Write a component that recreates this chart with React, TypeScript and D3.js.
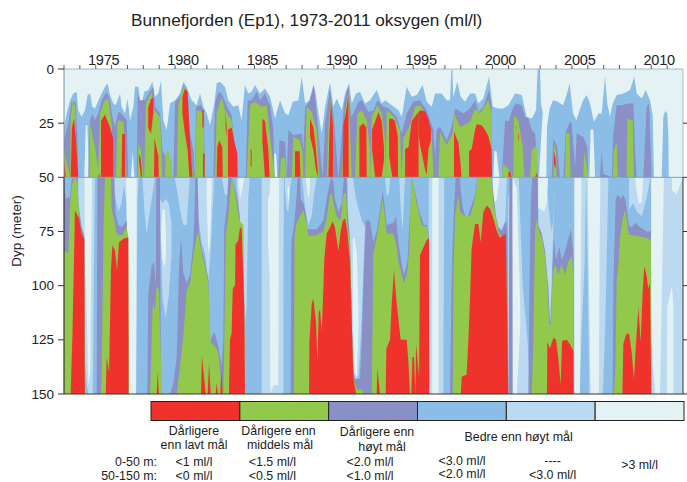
import React from "react";
import * as d3 from "d3";

type P = [number, number];
type T = [number, number, number];

const COLORS = { red: "#ef332c", green: "#92c84b", purple: "#8a8fc5", blue: "#8cbde7", light: "#bbd9f1", pale: "#e4f2f4" };
const legendColors = [COLORS.red, COLORS.green, COLORS.purple, COLORS.blue, COLORS.light, COLORS.pale];
const yearLabels = [1975, 1980, 1985, 1990, 1995, 2000, 2005, 2010];
const depthTicks = [0, 25, 50, 75, 100, 125, 150];
const rightTicks = [25, 50, 75, 100, 125, 150];

const upperBlue: P[] = [[1973,26.7],[1973.17,20.5],[1973.38,14.4],[1973.59,11.3],[1973.8,10.5],[1973.9,19],[1974.11,22],[1974.32,19],[1974.49,12],[1974.64,11.3],[1974.79,17.4],[1974.95,18.2],[1975.27,12.8],[1975.58,8.2],[1975.75,6.6],[1975.9,12],[1976.11,15.9],[1976.26,16.7],[1976.53,11.3],[1976.63,17.4],[1976.84,20.5],[1977.01,13.6],[1977.16,23.6],[1977.37,17.4],[1977.47,8.2],[1977.68,8.2],[1977.85,17.4],[1978.06,10.5],[1978.31,9.7],[1978.57,5.9],[1978.73,12.8],[1978.94,11.3],[1979.11,5.4],[1979.26,23.6],[1979.47,28.2],[1979.68,15.9],[1980,14.4],[1980.31,11.3],[1980.52,5.9],[1980.73,8.2],[1981.04,14.4],[1981.36,16.7],[1981.57,11.3],[1981.78,17.4],[1981.99,20.5],[1982.2,25.9],[1982.47,15.9],[1982.62,6.6],[1982.83,5.9],[1983.14,8.2],[1983.35,14.4],[1983.67,17.4],[1983.98,16.7],[1984.19,23.6],[1984.4,7.4],[1984.61,11.3],[1984.82,10.5],[1985.03,7.4],[1985.35,11.3],[1985.66,9],[1985.98,12.8],[1986.3,22.8],[1986.61,14.4],[1986.93,20.5],[1987.14,21.3],[1987.41,15.1],[1987.77,14.4],[1987.98,3.5],[1988.19,15.9],[1988.46,14.4],[1988.71,7.4],[1988.86,11.3],[1989.03,20.5],[1989.24,29.8],[1989.45,17.4],[1989.76,6.2],[1989.97,17.4],[1990.18,13.6],[1990.5,19],[1990.71,11.3],[1990.96,6.6],[1991.13,15.9],[1991.4,11.3],[1991.65,10.5],[1991.97,15.9],[1992.28,14.4],[1992.7,9.7],[1993.02,15.9],[1993.23,14.4],[1993.65,16.7],[1994.07,19],[1994.28,22],[1994.59,8.2],[1994.91,12.8],[1995.22,12],[1995.6,7.4],[1995.85,15.1],[1996.17,17.4],[1996.38,11.3],[1996.8,11.3],[1997.11,14.4],[1997.32,14.4],[1997.4,0.5],[1997.47,0.5],[1997.53,12.8],[1997.78,5.9],[1997.99,12.8],[1998.27,15.1],[1998.58,11.3],[1998.9,11.3],[1999.11,15.9],[1999.42,13.6],[1999.78,3.5],[2000.01,17.4],[2000.37,18.2],[2000.68,18.2],[2001,16.7],[2001.42,11.3],[2001.84,12],[2002.15,22],[2002.47,22.8],[2002.74,19],[2002.84,0],[2002.99,0],[2003.05,15.9],[2003.16,19.8],[2002.92,50],[2003.39,50],[2003.43,26.7],[2003.6,18.2],[2003.81,14.4],[2004.13,15.1],[2004.44,16.7],[2004.69,11.3],[2004.86,6.6],[2005.07,20.5],[2005.28,23.6],[2005.7,14.4],[2005.93,12],[2006.14,15.9],[2006.39,24.4],[2006.67,20.5],[2006.88,20.5],[2007.09,3.5],[2007.23,15.9],[2007.4,22],[2007.57,15.9],[2007.82,12],[2008.24,11.3],[2008.66,9.7],[2008.93,3.5],[2009.08,11.3],[2009.4,13.6],[2009.65,9.7],[2009.92,14.4],[2010.09,21.5],[2010.17,50],[2010.66,50],[2010.76,22],[2010.87,19.4],[2011.01,20.5],[2011.08,31.3],[2011.1,50]];

const upperPaleGaps: T[][] = [
  [[1974.28,50,50],[1974.37,26,50],[1974.47,26,50],[1974.58,50,50]],
  [[1977.22,50,50],[1977.33,38,50],[1977.43,50,50]],
  [[1986.15,50,50],[1986.23,39,50],[1986.36,39,50],[1986.44,50,50]],
  [[1988.29,50,50],[1988.4,38,50],[1988.48,50,50]],
  [[1996.27,50,50],[1996.38,41,50],[1996.48,50,50]],
  [[2000.05,50,50],[2000.12,38,50],[2000.25,38,50],[2000.43,50,50]],
  [[2006.1,50,50],[2006.18,28,50],[2006.35,28,50],[2006.46,50,50]],
];

const upperPurple: P[] = [[1973,32.9],[1973.27,25.2],[1973.48,15.1],[1973.74,15.1],[1973.86,34.4],[1973.9,50],[1974.53,50],[1974.62,24.4],[1974.79,20.5],[1974.95,23.6],[1975.16,20.5],[1975.37,14.4],[1975.69,10.5],[1975.9,14.4],[1976.05,22],[1976.21,26.7],[1976.42,19.8],[1976.63,20.5],[1976.95,23.6],[1977.05,50],[1977.58,50],[1977.64,11.3],[1977.79,14.4],[1978.1,14.4],[1978.42,10.5],[1978.63,8.2],[1978.73,17.4],[1979.05,20.5],[1979.2,37.5],[1979.47,41.4],[1979.68,44.4],[1979.83,50],[1979.89,50],[1980,15.1],[1980.31,12.8],[1980.52,7.4],[1980.79,10.5],[1980.94,29.8],[1981.15,37.5],[1981.25,50],[1981.32,17.4],[1981.63,16.7],[1981.82,19],[1981.88,50],[1982.41,50],[1982.51,15.9],[1982.72,10.5],[1982.93,11.3],[1983.25,16.7],[1983.56,21.3],[1983.94,50],[1984.45,50],[1984.57,14.4],[1984.82,14.4],[1985.14,10.5],[1985.35,14.4],[1985.66,11.3],[1985.98,16.7],[1986.19,28.2],[1986.27,50],[1986.5,50],[1986.57,32.9],[1986.93,33.6],[1987.03,50],[1987.14,28.2],[1987.45,30.6],[1987.98,29.8],[1988.08,37.5],[1988.19,17.4],[1988.46,15.1],[1988.75,7.4],[1988.92,20.5],[1989.13,37.5],[1989.3,50],[1989.45,25.2],[1989.76,9],[1989.97,20.5],[1990.29,50],[1990.43,37.5],[1990.64,15.9],[1990.92,7.4],[1991.08,22],[1991.23,20.5],[1991.55,15.1],[1991.76,14.4],[1992.18,19.8],[1992.49,19],[1992.74,14.4],[1993.12,17.4],[1993.44,18.2],[1993.96,22],[1994.28,29.8],[1994.59,20.5],[1995.01,15.1],[1995.43,14.4],[1995.85,19],[1996.27,28.2],[1996.38,40.6],[1996.48,28.2],[1996.69,26.7],[1997.11,32.9],[1997.42,26.7],[1997.64,18.2],[1997.85,19],[1998.16,20.5],[1998.58,18.2],[1998.9,14.4],[1999.11,19.8],[1999.42,17.4],[1999.78,9.7],[1999.95,17.4],[1999.99,50],[2000.58,50],[2000.68,37.5],[2000.79,23.6],[2001,24.4],[2001.31,17.4],[2001.52,15.9],[2001.84,16.7],[2002.05,22],[2002.26,22.8],[2002.47,28.2],[2002.68,29.8],[2002.88,50],[2003.72,50],[2003.83,32.1],[2004.08,36],[2004.25,50],[2004.46,50],[2004.61,29],[2004.88,24.4],[2004.99,25.2],[2005.2,45.2],[2005.3,29.8],[2005.72,31.3],[2005.97,36],[2006.03,50],[2006.77,50],[2006.88,37.5],[2006.98,48.3],[2007.51,50],[2007.61,29.8],[2007.82,16.7],[2008.14,16.7],[2008.56,15.9],[2008.87,15.9],[2008.98,37.5],[2009.08,50],[2009.5,50],[2009.71,17.4],[2009.86,15.9],[2010.03,50]];

const upperGreen: P[] = [[1973,37.5],[1973.13,42],[1973.38,50],[1973.42,22],[1973.55,14.4],[1973.69,17.4],[1973.86,50],[1974.6,50],[1974.64,25.2],[1974.95,36],[1975.16,46.8],[1975.27,20.5],[1975.58,14.4],[1975.79,13.6],[1976,25.2],[1976.11,50],[1976.28,50],[1976.36,23.6],[1976.74,24.4],[1976.95,50],[1977.64,50],[1977.68,34.4],[1977.85,37.5],[1978,50],[1978.06,50],[1978.15,15.9],[1978.52,10.5],[1978.69,19],[1979.05,22],[1979.2,50],[1979.36,50],[1979.41,39],[1979.57,37.5],[1979.78,43.7],[1979.83,50],[1980.1,50],[1980.2,16.7],[1980.52,8.2],[1980.73,9.7],[1980.94,37.5],[1981.15,50],[1981.25,50],[1981.36,19],[1981.78,19.8],[1981.88,50],[1982.51,50],[1982.62,20.5],[1982.93,12.8],[1983.14,19],[1983.56,23.6],[1983.92,50],[1984.51,50],[1984.72,16.7],[1985.03,15.1],[1985.45,17.4],[1985.77,16.7],[1986.08,37.5],[1986.3,50],[1986.61,50],[1986.67,41.4],[1986.93,40.6],[1986.99,50],[1987.35,50],[1987.45,31.3],[1987.87,32.9],[1988.04,39],[1988.08,50],[1988.19,50],[1988.29,17.4],[1988.61,19.8],[1988.92,28.2],[1989.09,50],[1989.55,50],[1989.66,26.7],[1989.82,13.6],[1989.97,28.2],[1990.01,50],[1990.5,50],[1990.71,19],[1990.92,11.3],[1991.02,28.2],[1991.13,50],[1991.34,50],[1991.48,20.5],[1991.76,19],[1992.07,23.6],[1992.28,37.5],[1992.34,50],[1992.39,22],[1992.74,16.7],[1993.02,20.5],[1993.23,32.9],[1993.27,50],[1993.33,19],[1993.79,22],[1994.17,28.2],[1994.28,50],[1994.38,32.1],[1994.8,25.9],[1995.12,17.4],[1995.43,16.7],[1995.85,21.3],[1996.17,29.8],[1996.27,50],[1996.59,50],[1996.69,29],[1997.11,35.2],[1997.49,29.8],[1997.57,20.5],[1997.95,26.7],[1998.27,25.9],[1998.58,24.4],[1998.9,18.2],[1999.21,20.5],[1999.74,14.4],[1999.95,20.5],[1999.97,50],[2000.58,50],[2000.68,43.7],[2001,46],[2001.31,50],[2001.35,21.3],[2001.62,23.6],[2001.9,36],[2002,50],[2002.36,50],[2002.47,37.5],[2002.78,35.2],[2002.84,50],[2003.83,50],[2003.87,34.4],[2004,37.5],[2004.04,50],[2004.57,50],[2004.63,29.5],[2004.84,29.8],[2004.92,50],[2005.72,50],[2005.78,38.3],[2005.93,43.7],[2006.03,50],[2007.57,50],[2007.65,37.5],[2007.82,33.6],[2007.88,50],[2008.45,50],[2008.49,22.8],[2008.83,23.6],[2008.87,37.5],[2008.91,50]];

const upperRed: T[][] = [
  [[1973,42,50],[1973.13,50,50]],
  [[1973.42,50,50],[1973.5,27,50],[1973.63,23,50],[1973.74,31,50],[1973.9,50,50]],
  [[1975.16,50,50],[1975.22,48,50],[1975.28,50,50]],
  [[1975.33,24,50],[1975.58,21,50],[1975.9,27,50],[1976.09,32,50],[1976.11,50,50]],
  [[1976.63,50,50],[1976.67,30,50],[1976.84,30,50],[1976.86,50,50]],
  [[1977.72,39,42],[1977.85,42,50],[1977.93,50,50]],
  [[1978.31,18,27],[1978.48,14,30],[1978.63,13,20]],
  [[1978.67,50,50],[1978.7,32,50],[1978.94,40,50],[1978.97,50,50]],
  [[1980.46,12.8,20.5],[1980.62,9,29.8],[1980.79,10.5,37.5],[1980.9,28,50],[1981.09,49,50]],
  [[1981.72,19,27],[1981.8,19,27]],
  [[1981.76,39,50],[1981.86,39,50]],
  [[1982.62,50,50],[1982.66,36,50],[1982.79,33,50],[1982.97,36,50],[1983,50,50]],
  [[1983.18,20,27],[1983.25,27,32]],
  [[1983.33,28,50],[1983.56,27,50],[1983.75,34,50],[1983.92,39,50],[1983.94,50,50]],
  [[1984.76,37,45],[1984.82,37,45]],
  [[1985.5,23,33],[1985.66,24,50],[1985.87,37,50],[1985.95,50,50]],
  [[1987.55,50,50],[1987.56,38,50],[1987.85,38,50],[1987.9,50,50]],
  [[1988.5,22.8,31],[1988.71,27,37.5],[1988.86,36,46],[1989,48,50]],
  [[1989.66,50,50],[1989.72,30,50],[1989.82,15,50],[1989.94,26,50],[1989.97,50,50]],
  [[1990.56,50,50],[1990.6,26,50],[1990.79,19,50],[1990.92,12,50],[1990.94,50,50]],
  [[1991.61,26.7,50],[1991.86,25,50],[1992.05,27,50],[1992.07,50,50]],
  [[1992.41,28,37],[1992.6,24.4,50],[1992.81,20,50],[1993.02,24,50],[1993.16,36,42]],
  [[1993.48,23,40],[1993.69,23,50],[1993.85,24,50],[1994.03,31,50],[1994.05,50,50]],
  [[1994.49,37,50],[1994.71,36,50],[1994.91,24,50],[1995.22,21,50],[1995.34,20,50]],
  [[1995.34,20,30],[1995.43,19,35],[1995.74,19.5,46],[1995.85,21,49],[1995.96,23,37],[1996.12,28,33]],
  [[1997.57,29,50],[1997.85,34,50],[1998,45,50],[1998.03,50,50]],
  [[1998.52,38,50],[1998.68,37,50],[1998.9,28,50],[1999,25.5,50],[1999.31,26,50],[1999.52,28,50],[1999.74,31,50],[1999.94,37,50],[1999.97,50,50]],
  [[2001,47,50],[2001.14,48,50],[2001.2,50,50]],
  [[2001.47,26.7,27.5],[2001.5,26.7,27.5]],
  [[2001.62,30,33],[2001.66,30,33]],
  [[2002.68,50,50],[2002.78,48,50],[2002.82,50,50]],
  [[2003.87,38,44],[2003.98,42,46]],
];

const lowerLight: T[][] = [
  [[1973.9,50,60],[1974.11,50,75],[1974.28,50,130],[1974.43,50,145],[1974.53,50,150],[1974.81,50,150],[1974.87,50,100],[1974.95,50,50]],
  [[1976.05,50,50],[1976.21,50,58],[1976.42,50,66],[1976.63,50,62],[1976.84,50,50]],
  [[1976.74,50,52],[1976.95,50,62],[1977.1,50,150],[1977.54,50,150],[1977.63,50,60],[1977.7,50,50]],
  [[1977.94,50,50],[1978.06,50,65],[1978.21,50,76],[1978.42,50,65],[1978.63,50,55],[1978.73,50,50]],
  [[1979.05,60,65],[1979.2,62,105],[1979.4,60,115],[1979.6,62,105],[1979.78,72,85]],
  [[1979.95,50,50],[1980.1,50,55],[1980.31,50,65],[1980.52,50,72],[1980.73,50,72],[1980.83,50,60],[1980.94,50,50]],
  [[1981.3,50,50],[1981.46,50,68],[1981.67,50,80],[1981.88,50,85],[1982.09,50,98],[1982.24,50,84],[1982.36,50,65],[1982.47,50,50]],
  [[1982.93,50,50],[1983.14,50,58],[1983.35,50,58],[1983.46,50,50]],
  [[1983.88,50,55],[1983.98,50,60],[1984.09,50,70],[1984.3,50,95],[1984.4,50,118],[1984.51,50,110],[1984.61,50,60],[1984.7,50,50]],
  [[1985.45,50,150],[1986.82,50,150],[1986.85,50,50]],
  [[1986.92,50,55],[1987.04,50,65],[1987.14,50,66],[1987.25,50,55],[1987.37,50,50]],
  [[1988.02,50,52],[1988.19,50,64],[1988.4,50,72],[1988.6,50,68],[1988.75,50,58],[1988.92,50,50]],
  [[1990.85,50,50],[1990.95,50,80],[1991.1,50,105],[1991.2,50,140],[1991.4,60,145],[1991.58,65,140],[1991.76,70,115],[1991.9,72,85],[1991.97,73,73]],
  [[1993.23,50,50],[1993.33,50,58],[1993.45,50,58],[1993.56,50,50]],
  [[1994.12,50,50],[1994.2,50,62],[1994.33,50,75],[1994.45,50,55],[1994.5,50,50]],
  [[1995.98,50,150],[1996.9,50,150],[1996.96,50,50]],
  [[2000,50,60],[2000.2,50,70],[2000.37,50,73],[2000.58,50,74],[2000.8,50,70],[2000.9,50,50]],
  [[2000.99,60,150],[2001.2,50,150],[2001.65,50,150],[2001.9,100,150],[2002.2,125,150],[2002.3,140,150]],
  [[2002.88,50,80],[2003.1,50,85],[2003.3,50,95],[2003.5,60,105],[2003.62,70,115],[2003.72,75,100],[2003.82,70,75],[2003.9,55,58]],
  [[2005.13,50,150],[2005.5,50,150],[2005.62,50,120],[2005.8,50,90],[2005.9,50,50]],
  [[2005.9,50,50],[2006,50,95],[2006.1,50,150],[2006.95,50,150],[2007.1,50,120],[2007.3,50,50]],
  [[2008.6,50,65],[2008.85,50,62],[2009.1,50,66],[2009.4,50,68],[2009.7,50,60],[2009.95,50,50]],
  [[2010,50,150],[2012,50,150]],
];

const lowerPale: T[][] = [
  [[1974.3,50,100],[1974.38,50,95],[1974.53,50,146],[1974.66,50,140],[1974.75,50,60]],
  [[1976.92,50,55],[1977.07,50,150],[1977.54,50,150],[1977.58,50,55]],
  [[1979.11,75,80],[1979.2,65,88],[1979.35,65,92],[1979.42,75,85]],
  [[1981.99,50,60],[1982.09,50,85],[1982.2,50,80],[1982.3,50,55]],
  [[1983.98,50,52],[1984.09,50,60],[1984.25,50,55],[1984.35,50,50]],
  [[1985.85,60,80],[1985.95,58,95],[1986,50,150],[1986.2,50,146],[1986.5,50,146],[1986.55,50,50]],
  [[1987.08,55,57],[1987.15,54,62],[1987.2,55,57]],
  [[1988.25,50,52],[1988.4,50,60],[1988.5,50,55]],
  [[1991.2,78,110],[1991.3,78,140],[1991.45,85,142],[1991.55,110,120]],
  [[1996.2,50,150],[1996.6,50,150]],
  [[2000.03,50,55],[2000.12,50,62],[2000.27,50,60],[2000.45,50,50]],
  [[2001.03,90,150],[2001.27,50,150],[2001.53,55,150],[2001.75,110,118]],
  [[2002.88,50,64],[2003.1,50,65],[2003.25,50,66],[2003.42,50,62],[2003.5,50,50]],
  [[2005.17,50,150],[2005.5,50,150],[2005.6,50,55]],
  [[2006,50,55],[2006.1,50,110],[2006.18,50,150],[2006.7,50,150],[2006.75,50,80],[2006.8,50,50]],
  [[2009,50,52],[2009.2,50,62],[2009.4,50,62],[2009.5,50,50]],
  [[2010,50,125],[2010.25,50,150],[2010.55,50,150],[2010.8,50,50]],
  [[2011.3,50,56],[2011.6,50,58],[2011.98,50,50]],
  [[2011,110,150],[2011.3,100,150],[2011.4,110,150]],
];

const lowerPurple: P[] = [[1973,54],[1973.11,60],[1973.38,59],[1973.48,51],[1973.69,50],[1973.86,50],[1973.9,63],[1974.11,73],[1974.28,77],[1974.32,150],[1975.06,150],[1975.1,50],[1976,50],[1976.17,50],[1976.23,66],[1976.42,72],[1976.63,73],[1976.95,70],[1977.1,150],[1978.25,150],[1978.31,104],[1978.52,91],[1978.67,89],[1978.78,100],[1978.82,50],[1979.05,50],[1979.07,100],[1979.11,135],[1979.13,150],[1979.68,150],[1979.89,145],[1980.1,133],[1980.25,90],[1980.38,78],[1980.52,94],[1980.73,99],[1980.94,95],[1981.15,80],[1981.21,70],[1981.27,50],[1981.42,50],[1981.5,75],[1981.67,83],[1981.88,89],[1982.09,97],[1982.2,126],[1982.41,122],[1982.51,122],[1982.72,128],[1982.93,137],[1983.04,125],[1983.1,73],[1983.25,64],[1983.35,50],[1983.56,50],[1983.88,58],[1984.09,69],[1984.4,150],[1987.28,150],[1987.32,80],[1987.49,72],[1987.66,58],[1987.72,50],[1987.87,50],[1987.91,60],[1988.08,62],[1988.19,65],[1988.33,74],[1988.5,74],[1988.92,74],[1989.34,70],[1989.55,60],[1989.76,52],[1989.87,50],[1989.97,52],[1990.07,60],[1990.29,66],[1990.5,62],[1990.64,50],[1990.81,50],[1990.85,65],[1991.02,78],[1991.13,117],[1991.23,138],[1991.34,143],[1991.65,143],[1991.76,125],[1991.86,100],[1992.01,70],[1992.28,70],[1992.34,73],[1992.49,80],[1992.7,75],[1992.91,65],[1993.08,56],[1993.23,65],[1993.33,72],[1993.75,71],[1993.92,68],[1994.07,80],[1994.28,90],[1994.42,95],[1994.63,89],[1994.76,72],[1994.84,60],[1994.91,50],[1995.22,60],[1995.43,67],[1995.68,72],[1995.85,72],[1995.96,76],[1996,150],[1997.32,150],[1997.42,100],[1997.49,80],[1997.57,65],[1997.68,50],[1997.95,50],[1997.99,56],[1998.16,65],[1998.37,70],[1998.58,65],[1998.9,58],[1999,52],[1999.04,50],[1999.95,50],[2000.01,55],[2000.22,68],[2000.37,73],[2000.58,75],[2000.85,70],[2000.93,75],[2000.99,150],[2001.01,150],[2001.06,50],[2001.25,50],[2001.27,150],[2002.26,150],[2002.32,100],[2002.42,60],[2002.51,50],[2002.84,50],[2002.88,72],[2003.1,76],[2003.31,84],[2003.45,96],[2003.51,100],[2003.62,117],[2003.68,116],[2003.79,90],[2003.87,78],[2004,88],[2004.21,82],[2004.36,88],[2004.53,85],[2004.71,80],[2004.94,74],[2005.09,85],[2005.13,150],[2007.57,150],[2007.61,100],[2007.76,60],[2007.92,58],[2008.07,60],[2008.24,58],[2008.35,60],[2008.45,64],[2008.58,72],[2008.77,73],[2008.98,71],[2009.29,73],[2009.71,75],[2009.98,75],[2010,150]];

const lowerGreen: P[] = [[1973,83.8],[1973.27,85],[1973.38,63],[1973.48,54],[1973.69,50],[1973.86,53],[1973.96,69],[1974.11,76],[1974.28,78],[1974.32,150],[1975.31,150],[1975.37,143],[1975.48,80],[1975.52,65],[1975.58,50],[1975.96,50],[1976,64],[1976.17,70],[1976.32,76],[1976.63,77],[1976.95,73],[1977.05,77.6],[1977.1,150],[1978.42,150],[1978.52,126],[1978.59,108.5],[1978.73,111],[1978.84,100],[1978.98,102],[1979.11,135.5],[1979.13,150],[1980.1,150],[1980.41,131],[1980.52,123],[1980.73,102],[1980.94,99],[1981.15,86],[1981.36,77],[1981.46,75.5],[1981.67,85],[1981.88,91],[1982.09,99],[1982.24,126],[1982.62,129],[1982.72,131],[1982.93,145],[1983.04,150],[1983.1,126],[1983.19,77],[1983.35,68],[1983.56,50],[1983.78,57],[1983.94,65],[1984.09,70.4],[1984.3,72],[1984.36,111],[1984.4,150],[1987.49,150],[1987.53,77],[1987.66,71],[1987.87,68],[1988.08,65],[1988.29,72],[1988.4,77],[1988.82,77],[1989.34,75],[1989.55,69],[1989.76,58],[1989.87,57],[1989.97,62],[1990.18,68],[1990.43,70],[1990.6,58],[1990.77,57],[1990.85,72],[1991.02,80],[1991.13,117],[1991.23,142],[1991.34,145],[1991.48,148],[1991.82,148],[1991.86,150],[1992.39,150],[1992.49,85.3],[1992.7,78],[1992.91,68],[1993.08,60],[1993.23,69],[1993.33,76],[1993.75,76],[1993.96,82],[1994.07,89],[1994.28,95],[1994.42,99],[1994.63,94],[1994.76,82],[1994.82,65],[1994.91,50],[1995.22,62],[1995.54,72],[1995.85,73],[1995.96,78],[1996,150],[1997.49,150],[1997.53,95],[1997.64,68],[1997.85,58],[1997.95,66],[1998.27,68],[1998.58,68],[1998.79,63],[1999,55],[1999.04,50],[1999.95,50],[2000.05,62],[2000.26,70],[2000.37,75],[2000.58,78],[2000.83,76],[2000.99,150],[2002.47,150],[2002.57,126],[2002.68,75],[2002.78,69],[2002.93,75],[2003.1,78],[2003.31,86],[2003.45,99],[2003.58,117],[2003.68,118.5],[2003.79,95],[2003.94,90],[2004.15,95],[2004.36,90],[2004.57,95],[2004.78,89],[2004.99,86],[2005.09,95],[2005.13,150],[2007.65,150],[2007.74,137],[2007.82,98],[2007.92,91],[2008.03,78],[2008.2,69],[2008.35,65],[2008.45,69],[2008.58,76.5],[2009.08,77],[2009.71,78],[2009.98,79],[2010,150]];

const lowerRed: P[] = [[1973.42,150],[1973.53,123.1],[1973.63,87.7],[1973.69,65.3],[1973.95,69],[1974.11,76],[1974.28,78.4],[1974.3,140],[1974.32,150],[1975.63,150],[1975.69,133],[1975.84,140],[1975.96,92],[1976.05,81.4],[1976.21,83.7],[1976.34,93],[1976.47,80],[1976.74,78.4],[1977.05,77.6],[1977.07,150],[1978.84,150],[1978.9,140],[1978.98,150],[1981.63,150],[1981.69,132.4],[1981.82,142],[1981.93,150],[1982.05,150],[1982.14,136],[1982.24,150],[1982.56,150],[1982.62,145],[1982.7,150],[1982.85,150],[1982.91,138.5],[1983,150],[1983.39,150],[1983.46,124.7],[1983.56,122],[1983.63,101.5],[1983.78,99.5],[1983.8,81],[1983.98,79.2],[1984.09,73],[1984.19,73.7],[1984.3,95.4],[1984.36,111],[1984.4,150],[1988.44,150],[1988.46,126],[1988.61,108],[1988.71,106],[1988.88,117],[1988.96,135],[1989.05,112.4],[1989.13,111],[1989.24,121],[1989.34,101.5],[1989.4,87.7],[1989.55,76],[1989.76,73],[1989.93,70.4],[1990.07,73],[1990.29,84],[1990.43,75],[1990.56,70],[1990.71,69],[1990.85,75],[1991.02,89],[1991.13,117],[1991.23,142],[1991.4,150],[1992.7,150],[1992.74,138],[1992.91,150],[1993.27,150],[1993.31,129],[1993.54,125],[1993.65,108],[1993.79,93],[1993.96,108],[1994.21,125],[1994.59,125],[1994.7,135.5],[1994.8,150],[1994.88,150],[1994.95,133],[1995.05,133],[1995.14,150],[1995.18,127],[1995.26,133],[1995.37,142],[1995.43,86],[1995.54,84],[1995.85,79],[1996,78],[1996.02,150],[1998,150],[1998.06,142],[1998.37,141],[1998.5,121.5],[1998.58,106],[1998.68,83],[1998.9,71.5],[1999.11,71.5],[1999.25,80],[1999.42,66],[1999.63,63],[1999.84,64.5],[2000.05,69],[2000.26,74.5],[2000.47,78],[2000.83,76],[2000.93,118],[2000.99,150],[2003.43,150],[2003.45,126],[2003.62,129],[2003.83,124],[2004,125],[2004.15,134],[2004.29,146],[2004.38,125.5],[2004.67,125],[2004.88,127],[2005.09,130],[2005.11,150],[2008.18,150],[2008.24,127],[2008.35,124],[2008.45,122],[2008.62,122.5],[2008.77,131],[2008.91,143],[2009.02,129],[2009.19,110],[2009.33,126],[2009.46,103],[2009.56,91],[2009.71,95.4],[2009.82,101.5],[2009.92,98.5],[2010,150]];

const x = d3.scaleLinear().domain([1973, 2012]).range([64, 683]);
const y = d3.scaleLinear().domain([0, 150]).range([69, 394]);
const yearTicks = d3.range(1973, 2012);

const FONT = "'Liberation Sans', Arial, sans-serif";

function pairPath(points: P[], base: number) {
  return d3.area<P>().x((d) => x(d[0])).y0(y(base)).y1((d) => y(d[1]))(points) ?? "";
}
function bandPath(points: T[]) {
  return d3.area<T>().x((d) => x(d[0])).y0((d) => y(d[2])).y1((d) => y(d[1]))(points) ?? "";
}

const legendX = d3.scaleLinear().domain([0, 6]).range([151, 684]);

const legendHeads: [string, number, number][] = [
  ["Dårligere", 194, 434.5], ["enn lavt mål", 194, 448.5],
  ["Dårligere enn", 278.5, 434.5], ["middels mål", 280, 448.5],
  ["Dårligere enn", 377, 435.5], ["høyt mål", 382, 450.5],
  ["Bedre enn høyt mål", 518.6, 440.5],
  ["<1 ml/l", 194, 466], ["<0 ml/l", 194, 480],
  ["<1.5 ml/l", 272.4, 466], ["<0.5 ml/l", 272.4, 480],
  ["<2.0 ml/l", 370, 465.5], ["<1.0 ml/l", 370, 479.5],
  ["<3.0 ml/l", 462, 464.5], ["<2.0 ml/l", 462, 478],
  ["----", 552.6, 465], ["<3.0 ml/l", 552.6, 478.5],
  [">3 ml/l", 639.6, 468.5],
];

export default function App() {
  return (
    <svg width={687} height={482} style={{ position: "absolute", left: 0, top: 0, background: "#fff" }} fontFamily={FONT}>
      <defs>
        <clipPath id="upper"><rect x={64} y={69} width={619} height={y(50) - 69} /></clipPath>
        <clipPath id="lower"><rect x={64} y={y(50)} width={619} height={394 - y(50)} /></clipPath>
      </defs>
      <text x={131} y={26} fontSize={17.2} fill="#222">Bunnefjorden (Ep1), 1973-2011 oksygen (ml/l)</text>

      <g clipPath="url(#upper)">
        <rect x={64} y={69} width={619} height={y(50) - 69} fill={COLORS.pale} />
        <path d={pairPath(upperBlue, 50)} fill={COLORS.blue} />
        {upperPaleGaps.map((b, i) => <path key={i} d={bandPath(b)} fill={COLORS.pale} />)}
        <path d={pairPath(upperPurple, 50)} fill={COLORS.purple} />
        <path d={pairPath(upperGreen, 50)} fill={COLORS.green} />
        {upperRed.map((b, i) => <path key={i} d={bandPath(b)} fill={COLORS.red} />)}
      </g>
      <g clipPath="url(#lower)">
        <rect x={64} y={y(50)} width={619} height={394 - y(50)} fill={COLORS.blue} />
        {lowerLight.map((b, i) => <path key={i} d={bandPath(b)} fill={COLORS.light} />)}
        {lowerPale.map((b, i) => <path key={i} d={bandPath(b)} fill={COLORS.pale} />)}
        <path d={pairPath(lowerPurple, 150)} fill={COLORS.purple} />
        <path d={pairPath(lowerGreen, 150)} fill={COLORS.green} />
        <path d={pairPath(lowerRed, 150)} fill={COLORS.red} />
      </g>

      <line x1={64} x2={683} y1={y(50)} y2={y(50)} stroke="#7f9fc2" strokeWidth={1} />
      <line x1={64} x2={683} y1={69} y2={69} stroke="#8fa8bf" strokeWidth={0.8} />
      <line x1={683} x2={683} y1={69} y2={y(50)} stroke="#8fa8bf" strokeWidth={0.8} />
      <line x1={64} x2={64} y1={69} y2={y(50)} stroke="#7f8c99" strokeWidth={1} />
      <line x1={64} x2={64} y1={y(50)} y2={394} stroke="#3a3530" strokeWidth={1.2} />
      <line x1={64} x2={683} y1={394} y2={394} stroke="#3a3530" strokeWidth={1.2} />
      <line x1={683} x2={683} y1={y(50)} y2={394} stroke="#3a3530" strokeWidth={1} />

      {yearTicks.map((t) => <line key={t} x1={x(t)} x2={x(t)} y1={65} y2={69} stroke="#333" strokeWidth={0.8} />)}
      {yearLabels.map((t) => (
        <text key={t} x={x(t + 0.5)} y={65} textAnchor="middle" fontSize={14.5} letterSpacing={-0.2} fill="#222">{t}</text>
      ))}
      {depthTicks.map((d) => (
        <g key={d}>
          <line x1={58} x2={64} y1={y(d)} y2={y(d)} stroke="#333" strokeWidth={1} />
          <text x={54} y={y(d) + 4.5} textAnchor="end" fontSize={13.5} fill="#222">{d}</text>
        </g>
      ))}
      {rightTicks.map((d) => <line key={d} x1={683} x2={687} y1={y(d)} y2={y(d)} stroke="#333" strokeWidth={1} />)}
      <text transform={`translate(20.5,231) rotate(-90)`} textAnchor="middle" fontSize={13.5} fill="#222">Dyp (meter)</text>

      {legendColors.map((c, i) => (
        <rect key={c} x={legendX(i)} y={401.5} width={legendX(i + 1) - legendX(i)} height={19} fill={c} stroke="#222" strokeWidth={1} />
      ))}
      {legendHeads.map(([t, px, py], i) => (
        <text key={i} x={px} y={py} textAnchor="middle" fontSize={12.4} fill="#222">{t}</text>
      ))}
      <text x={157} y={466} textAnchor="end" fontSize={12.4} fill="#222">0-50 m:</text>
      <text x={157} y={480} textAnchor="end" fontSize={12.4} fill="#222">50-150 m:</text>
    </svg>
  );
}
